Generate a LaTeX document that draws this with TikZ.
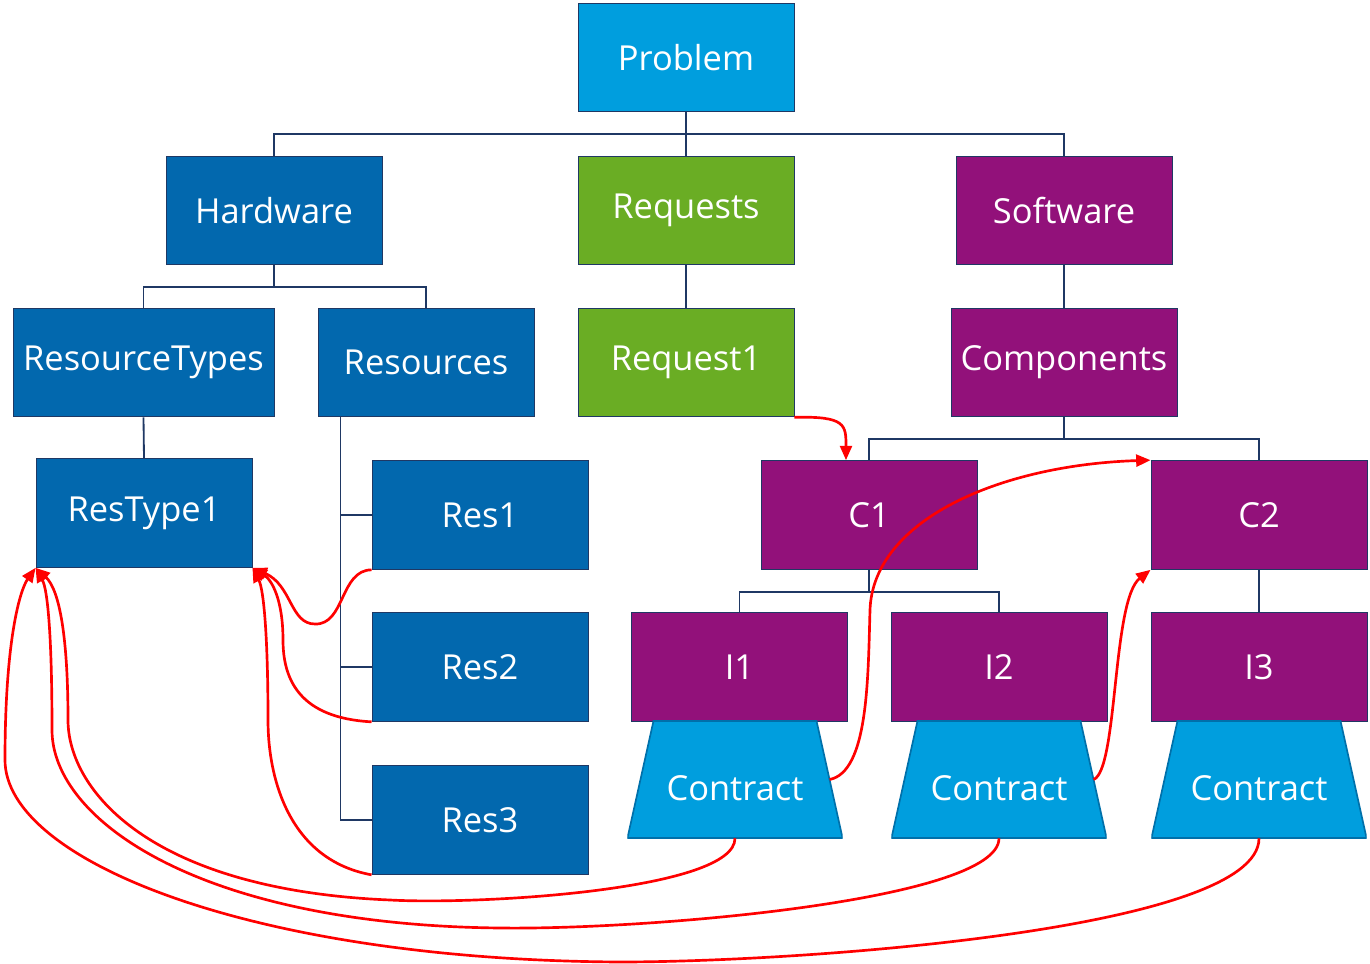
\documentclass[tikz,border=0pt]{standalone}
\usepackage{fontspec}
\setmainfont{Open Sans}
\usetikzlibrary{arrows.meta}

\definecolor{skyblue}{RGB}{0,158,222}
\definecolor{deepblue}{RGB}{2,104,174}
\definecolor{leafgreen}{RGB}{106,173,36}
\definecolor{plum}{RGB}{146,17,122}
\definecolor{navyline}{RGB}{31,56,100}
\definecolor{contractline}{RGB}{0,112,170}

\tikzset{box/.style={rectangle,draw=navyline,line width=0.6pt,text=white,font=\fontsize{24.5}{28}\selectfont,minimum width=5.4cm,minimum height=2.72cm,inner sep=0pt},
top box/.style={box,fill=skyblue},
hw box/.style={box,fill=deepblue},
req box/.style={box,fill=leafgreen},
sw box/.style={box,fill=plum},
contract/.style={rectangle,text=white,font=\fontsize{24.5}{28}\selectfont,text height=1.05cm,text depth=0pt,minimum width=5.375cm,minimum height=2.925cm,inner sep=0pt,
  path picture={\path [fill=skyblue,draw=contractline,line width=1.2pt]
    ([xshift=0.65cm]path picture bounding box.north west) -- ([xshift=-0.65cm]path picture bounding box.north east)
    -- (path picture bounding box.south east) -- (path picture bounding box.south west) -- cycle;}},
tree/.style={draw=navyline,line width=1.3pt},
link/.style={draw=red,line width=1.9pt,-{Triangle[length=0.36cm,width=0.3cm]}}}

\begin{document}
\begin{tikzpicture}[x=0.025cm,y=-0.025cm]
\useasboundingbox (0,0) rectangle (1370,964);

%% boxes
\node [top box] (problem) at (686,57.5) {Problem};
\node [hw box] (hardware) at (274,210.5) {Hardware};
\node [req box] (requests) at (686,210.5) {Requests};
\node [sw box] (software) at (1064,210.5) {Software};
\node [hw box,minimum width=6.525cm] (restypes) at (143.5,362.5) {ResourceTypes};
\node [hw box] (resources) at (426,362.5) {Resources};
\node [req box] (request1) at (686,362.5) {Request1};
\node [sw box,minimum width=5.65cm] (components) at (1064,362.5) {Components};
\node [hw box] (restype1) at (144,513) {ResType1};
\node [hw box] (res1) at (480,515) {Res1};
\node [hw box] (res2) at (480,667) {Res2};
\node [hw box] (res3) at (480,820) {Res3};
\node [sw box] (c1) at (869,515) {C1};
\node [sw box] (c2) at (1259,515) {C2};
\node [sw box] (i1) at (739.5,667) {I1};
\node [sw box] (i2) at (999,667) {I2};
\node [sw box] (i3) at (1259,667) {I3};
\node [contract] (contract1) at (735,779.5) {Contract};
\node [contract] (contract2) at (999,779.5) {Contract};
\node [contract] (contract3) at (1259,779.5) {Contract};

%% tree lines
\draw [tree] (problem.south) -- ++(0,22) -| (hardware.north);
\draw [tree] (problem.south) -- ++(0,22) -| (software.north);
\draw [tree] (problem.south) -- (requests.north);
\draw [tree] (hardware.south) -- ++(0,22) -| (restypes.north);
\draw [tree] (hardware.south) -- ++(0,22) -| (resources.north);
\draw [tree] (requests.south) -- (request1.north);
\draw [tree] (software.south) -- (components.north);
\draw [tree] (restypes.south) -- (restype1.north);
\draw [tree] ([xshift=0.575cm]resources.south west) |- (res1.west);
\draw [tree] ([xshift=0.575cm]resources.south west) |- (res2.west);
\draw [tree] ([xshift=0.575cm]resources.south west) |- (res3.west);
\draw [tree] (components.south) -- ++(0,22) -| (c1.north);
\draw [tree] (components.south) -- ++(0,22) -| (c2.north);
\draw [tree] (c1.south) -- ++(0,22) -| (i1.north);
\draw [tree] (c1.south) -- ++(0,22) -| (i2.north);
\draw [tree] (c2.south) -- (i3.north);

%% red links
\draw [link] (request1.south east) .. controls (846,416) and (846,425) .. ([xshift=-0.575cm]c1.north);
\draw [link] ([xshift=-0.33cm]contract1.east) .. controls (868,772) and (868,680) .. (870,610)
  .. controls (873,520) and (1000,465) .. (c2.north west);
\draw [link] ([xshift=-0.33cm]contract2.east) .. controls (1118,770) and (1112,600) .. (c2.south west);
\draw [link] (res1.south west) .. controls (340,570) and (345,625) .. (315,624)
  .. controls (290,624) and (292,585) .. (restype1.south east);
\draw [link] (res2.south west) .. controls (300,718) and (283,680) .. (283,640)
  .. controls (283,600) and (272,580) .. (restype1.south east);
\draw [link] (res3.south west) .. controls (290,860) and (268,780) .. (268,720)
  .. controls (268,640) and (264,590) .. (restype1.south east);
\draw [link] (contract1.south) .. controls (735,890) and (480,905) .. (390,900)
  .. controls (150,890) and (68,790) .. (68,720)
  .. controls (68,640) and (60,590) .. (restype1.south west);
\draw [link] (contract2.south) .. controls (999,900) and (650,930) .. (500,928)
  .. controls (200,925) and (52,820) .. (52,730)
  .. controls (52,640) and (48,590) .. (restype1.south west);
\draw [link] (contract3.south) .. controls (1259,930) and (800,962) .. (620,962)
  .. controls (250,960) and (5,860) .. (5,760)
  .. controls (5,640) and (20,590) .. (restype1.south west);

\end{tikzpicture}
\end{document}
